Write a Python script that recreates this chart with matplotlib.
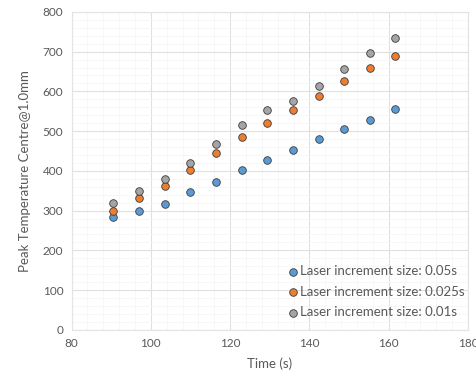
import matplotlib
matplotlib.use("Agg")
import matplotlib.pyplot as plt
from matplotlib.ticker import MultipleLocator

time_s = [90.4, 96.9, 103.5, 110.0, 116.4, 122.9, 129.4, 135.9, 142.4, 148.8, 155.3, 161.7]
temp_005 = [284, 300, 317, 346, 373, 402, 428, 453, 481, 506, 529, 555]
temp_0025 = [299, 332, 363, 402, 445, 485, 521, 554, 589, 627, 660, 690]
temp_001 = [319, 350, 380, 420, 467, 515, 553, 577, 614, 657, 696, 735]

series = [
    ("Laser increment size: 0.05s", temp_005, "#5B9BD5"),
    ("Laser increment size: 0.025s", temp_0025, "#ED7D31"),
    ("Laser increment size: 0.01s", temp_001, "#A5A5A5"),
]

TXT = "#595959"
plt.rcParams["font.family"] = ["Lato", "DejaVu Sans"]

fig = plt.figure(figsize=(4.77, 3.84), dpi=100)
ax = fig.add_axes([0.15, 0.141, 0.831, 0.828])

for label, vals, col in series:
    ax.scatter(time_s, vals, s=30, c=col, edgecolors="#3a3a3a", linewidths=0.6,
               label=label, zorder=3)

ax.set_xlim(80, 180)
ax.set_ylim(0, 800)
ax.xaxis.set_major_locator(MultipleLocator(20))
ax.yaxis.set_major_locator(MultipleLocator(100))
ax.xaxis.set_minor_locator(MultipleLocator(4))
ax.yaxis.set_minor_locator(MultipleLocator(20))
ax.grid(which="major", color="#e0e0e0", linewidth=0.8)
ax.grid(which="minor", color="#f6f6f6", linewidth=0.6)
ax.set_axisbelow(True)
ax.tick_params(which="both", length=0, colors=TXT, labelsize=8.5, pad=6)
for sp in ax.spines.values():
    sp.set_color("#e3e3e3")
    sp.set_linewidth(0.8)

ax.set_xlabel("Time (s)", color=TXT, fontsize=9.5, labelpad=6)
ax.set_ylabel("Peak Temperature Centre@1.0mm", color=TXT, fontsize=9.5, labelpad=8)

leg = ax.legend(loc="lower right", frameon=False, fontsize=9.5, handletextpad=0.05,
                labelspacing=0.65, borderaxespad=0.0, handlelength=1.0,
                bbox_to_anchor=(1.005, 0.02))
for t in leg.get_texts():
    t.set_color(TXT)

fig.savefig("out.png", dpi=100, facecolor="white")
